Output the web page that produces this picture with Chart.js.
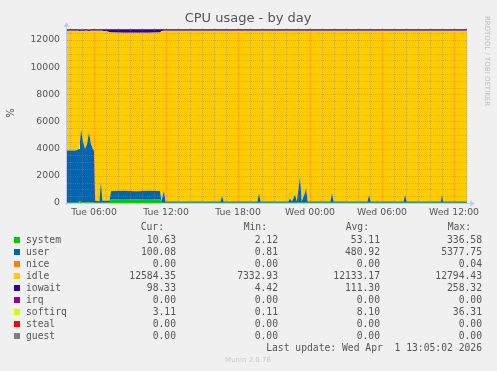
<!DOCTYPE html>
<html>
<head>
<meta charset="utf-8">
<script src="https://cdn.jsdelivr.net/npm/chart.js@4/dist/chart.umd.min.js"></script>
<style>
  body { margin: 0; background: #f0f0f0; }
  #wrap { position: relative; width: 497px; height: 371px; }
  #c { position: absolute; left: 0; top: 0; }
  .lg { position: absolute; font-family: "DejaVu Sans Mono", monospace; font-size: 9.7px; color: #555; white-space: pre; line-height: 12px; }
  .sw { position: absolute; width: 6px; height: 6px; }
</style>
</head>
<body>
<div id="wrap">
  <canvas id="c" width="497" height="371"></canvas>
  <div id="legend"></div>
</div>
<script>
// time in hours from Tue 00:00
const hours   = [3.75, 4.5, 4.75, 4.83, 4.92, 5.08, 5.25, 5.42, 5.58, 5.75, 5.92, 6.0, 6.1, 6.45, 6.58, 6.7, 7.3, 7.42, 8.5, 9.5, 10.5, 11.5, 11.62, 11.83, 11.95,
                 16.55, 16.67, 16.8, 19.62, 19.75, 19.88, 22.2, 22.33, 22.5, 22.75, 22.9, 23.17, 23.3, 23.58, 23.67, 23.8,
                 25.7, 25.83, 25.96, 28.8, 28.92, 29.05, 31.8, 31.92, 32.05, 34.9, 35.0, 35.1, 37.08];
const system  = [20, 20, 30, 150, 40, 40, 30, 30, 30, 30, 30, 20, 15, 15, 20, 15, 15, 280, 290, 280, 290, 280, 15, 15, 10,
                 10, 10, 10, 10, 10, 10, 10, 10, 10, 10, 10, 10, 10, 10, 10, 10,
                 10, 10, 10, 10, 10, 10, 10, 10, 10, 10, 10, 10, 10];
const user    = [3850, 3850, 3950, 4300, 5350, 4500, 3950, 4300, 5150, 4300, 3900, 3800, 150, 120, 1550, 150, 150, 600, 620, 580, 620, 600, 100, 900, 100,
                 100, 500, 100, 100, 700, 100, 100, 300, 100, 600, 100, 1900, 100, 700, 1100, 100,
                 100, 700, 100, 100, 600, 100, 100, 600, 100, 100, 600, 100, 100];
const idle    = [8810, 8800, 8690, 8215, 7290, 8125, 8690, 8340, 7485, 8340, 8750, 8860, 12515, 12545, 11110, 12515, 12425, 11660, 11620, 11665, 11620, 11660, 12545, 11755, 12570,
                 12572, 12172, 12572, 12572, 11972, 12572, 12572, 12372, 12572, 12072, 12572, 10772, 12572, 11972, 11572, 12572,
                 12572, 11972, 12572, 12572, 12072, 12572, 12572, 12072, 12572, 12572, 12072, 12572, 12572];
const iowait  = [100, 110, 110, 110, 110, 110, 110, 110, 110, 110, 110, 100, 100, 100, 100, 100, 200, 240, 250, 255, 250, 240, 120, 110, 100,
                 100, 100, 100, 100, 100, 100, 100, 100, 100, 100, 100, 100, 100, 100, 100, 100,
                 100, 100, 100, 100, 100, 100, 100, 100, 100, 100, 100, 100, 100];
const softirq = [10, 10, 10, 15, 20, 15, 10, 15, 15, 15, 10, 10, 10, 10, 10, 10, 10, 10, 10, 10, 10, 10, 10, 10, 10,
                 8, 8, 8, 8, 8, 8, 8, 8, 8, 8, 8, 8, 8, 8, 8, 8,
                 8, 8, 8, 8, 8, 8, 8, 8, 8, 8, 8, 8, 8];

const xTicks = [6, 12, 18, 24, 30, 36];
const xLabels = ['Tue 06:00', 'Tue 12:00', 'Tue 18:00', 'Wed 00:00', 'Wed 06:00', 'Wed 12:00'];
const yTicks = [0, 2000, 4000, 6000, 8000, 10000, 12000];

// legend table
const names  = ['system', 'user', 'nice', 'idle', 'iowait', 'irq', 'softirq', 'steal', 'guest'];
const colors = ['#00cc00', '#0066b3', '#ff8000', '#ffcc00', '#330099', '#990099', '#ccff00', '#ff0000', '#808080'];
const curV = ['10.63', '100.08', '0.00', '12584.35', '98.33', '0.00', '3.11', '0.00', '0.00'];
const minV = ['2.12', '0.81', '0.00', '7332.93', '4.42', '0.00', '0.11', '0.00', '0.00'];
const avgV = ['53.11', '480.92', '0.00', '12133.17', '111.30', '0.00', '8.10', '0.00', '0.00'];
const maxV = ['336.58', '5377.75', '0.04', '12794.43', '258.32', '0.00', '36.31', '0.00', '0.00'];

const pts = arr => arr.map((v, i) => ({ x: hours[i], y: v }));
const area = (label, arr, col, first) => ({
  label, data: pts(arr), backgroundColor: col, borderColor: col, borderWidth: 0,
  fill: first ? 'origin' : '-1', pointRadius: 0, tension: 0
});

const overlay = {
  id: 'overlay',
  afterDatasetsDraw(chart) {
    const { ctx, chartArea: a, scales: { x, y } } = chart;
    ctx.save();
    ctx.lineWidth = 1;
    ctx.setLineDash([1, 1]);
    // minor grid
    ctx.strokeStyle = 'rgba(150,130,120,0.4)';
    for (let v = 500; v < 12880; v += 500) {
      if (v % 2000 === 0) continue;
      const py = Math.round(y.getPixelForValue(v)) + 0.5;
      ctx.beginPath(); ctx.moveTo(a.left, py); ctx.lineTo(a.right, py); ctx.stroke();
    }
    for (let h = 4; h <= 37; h++) {
      if (h % 6 === 0) continue;
      const px = Math.round(x.getPixelForValue(h)) + 0.5;
      ctx.beginPath(); ctx.moveTo(px, a.top); ctx.lineTo(px, a.bottom); ctx.stroke();
    }
    // major grid
    ctx.strokeStyle = 'rgba(230,60,40,0.35)';
    yTicks.forEach(v => {
      if (v === 0) return;
      const py = Math.round(y.getPixelForValue(v)) + 0.5;
      ctx.beginPath(); ctx.moveTo(a.left, py); ctx.lineTo(a.right, py); ctx.stroke();
    });
    xTicks.forEach(h => {
      const px = Math.round(x.getPixelForValue(h)) + 0.5;
      ctx.beginPath(); ctx.moveTo(px, a.top); ctx.lineTo(px, a.bottom); ctx.stroke();
    });
    ctx.setLineDash([]);
    // axes with arrows
    ctx.strokeStyle = '#c4c8ee';
    ctx.fillStyle = '#c4c8ee';
    ctx.beginPath(); ctx.moveTo(a.left - 2, a.bottom + 0.5); ctx.lineTo(a.right + 4, a.bottom + 0.5); ctx.stroke();
    ctx.beginPath(); ctx.moveTo(a.right + 8, a.bottom + 0.5); ctx.lineTo(a.right + 3, a.bottom - 2.5); ctx.lineTo(a.right + 3, a.bottom + 3.5); ctx.fill();
    ctx.beginPath(); ctx.moveTo(a.left - 0.5, a.bottom + 2); ctx.lineTo(a.left - 0.5, a.top - 2); ctx.stroke();
    ctx.beginPath(); ctx.moveTo(a.left - 0.5, a.top - 6); ctx.lineTo(a.left - 3.5, a.top - 1); ctx.lineTo(a.left + 2.5, a.top - 1); ctx.fill();
    // title
    ctx.fillStyle = '#555';
    ctx.font = '13px "DejaVu Sans"';
    ctx.textAlign = 'center';
    ctx.textBaseline = 'middle';
    ctx.fillText('CPU usage - by day', 248, 19);
    // y axis unit
    ctx.save();
    ctx.translate(11, 113);
    ctx.rotate(-Math.PI / 2);
    ctx.font = '10px "DejaVu Sans"';
    ctx.fillText('%', 0, 0);
    ctx.restore();
    // watermark
    ctx.save();
    ctx.translate(487, 61);
    ctx.rotate(Math.PI / 2);
    ctx.fillStyle = '#c0c0c0';
    ctx.font = '7px "DejaVu Sans"';
    ctx.fillText('RRDTOOL / TOBI OETIKER', 0, 0);
    ctx.restore();
    ctx.fillStyle = '#c8c8c8';
    ctx.font = '7px "DejaVu Sans"';
    ctx.fillText('Munin 2.0.76', 248, 360);
    ctx.restore();
  }
};

new Chart(document.getElementById('c'), {
  type: 'line',
  data: {
    datasets: [
      area('system', system, colors[0], true),
      area('user', user, colors[1]),
      area('idle', idle, colors[3]),
      area('iowait', iowait, colors[4]),
      area('softirq', softirq, colors[6])
    ]
  },
  options: {
    responsive: false,
    animation: false,
    devicePixelRatio: 1,
    layout: { padding: { top: 28, right: 30, left: 0, bottom: 0 } },
    plugins: { legend: { display: false }, title: { display: false }, tooltip: { enabled: false } },
    scales: {
      x: {
        type: 'linear', min: 3.75, max: 37.083,
        afterBuildTicks: s => { s.ticks = xTicks.map(v => ({ value: v })); },
        afterFit: s => { s.height = 168; },
        grid: { display: false, drawTicks: false },
        border: { display: false },
        ticks: {
          padding: 4, maxRotation: 0, autoSkip: false, color: '#555',
          font: { family: 'DejaVu Sans', size: 9.3 },
          callback: v => xLabels[xTicks.indexOf(v)]
        }
      },
      y: {
        stacked: true, min: 0, max: 12880,
        afterBuildTicks: s => { s.ticks = yTicks.map(v => ({ value: v })); },
        afterFit: s => { s.width = 67; },
        grid: { display: false, drawTicks: false },
        border: { display: false },
        ticks: { padding: 7, color: '#555', font: { family: 'DejaVu Sans', size: 9.3 }, callback: v => String(v) }
      }
    }
  },
  plugins: [overlay]
});

// legend text
const lg = document.getElementById('legend');
function put(txt, x, y, align) {
  const d = document.createElement('div');
  d.className = 'lg';
  d.textContent = txt;
  d.style.top = (y - 6) + 'px';
  if (align === 'right') d.style.right = (497 - x) + 'px'; else d.style.left = x + 'px';
  lg.appendChild(d);
}
put('Cur:', 164, 227, 'right');
put('Min:', 267, 227, 'right');
put('Avg:', 369, 227, 'right');
put('Max:', 471, 227, 'right');
names.forEach((n, i) => {
  const y = 239.5 + i * 12;
  const s = document.createElement('div');
  s.className = 'sw';
  s.style.left = '14px'; s.style.top = (y - 3) + 'px';
  s.style.background = colors[i];
  lg.appendChild(s);
  put(n, 26, y);
  put(curV[i], 176, y, 'right');
  put(minV[i], 278, y, 'right');
  put(avgV[i], 380, y, 'right');
  put(maxV[i], 482, y, 'right');
});
put('Last update: Wed Apr  1 13:05:02 2026', 482, 348, 'right');
</script>
</body>
</html>
